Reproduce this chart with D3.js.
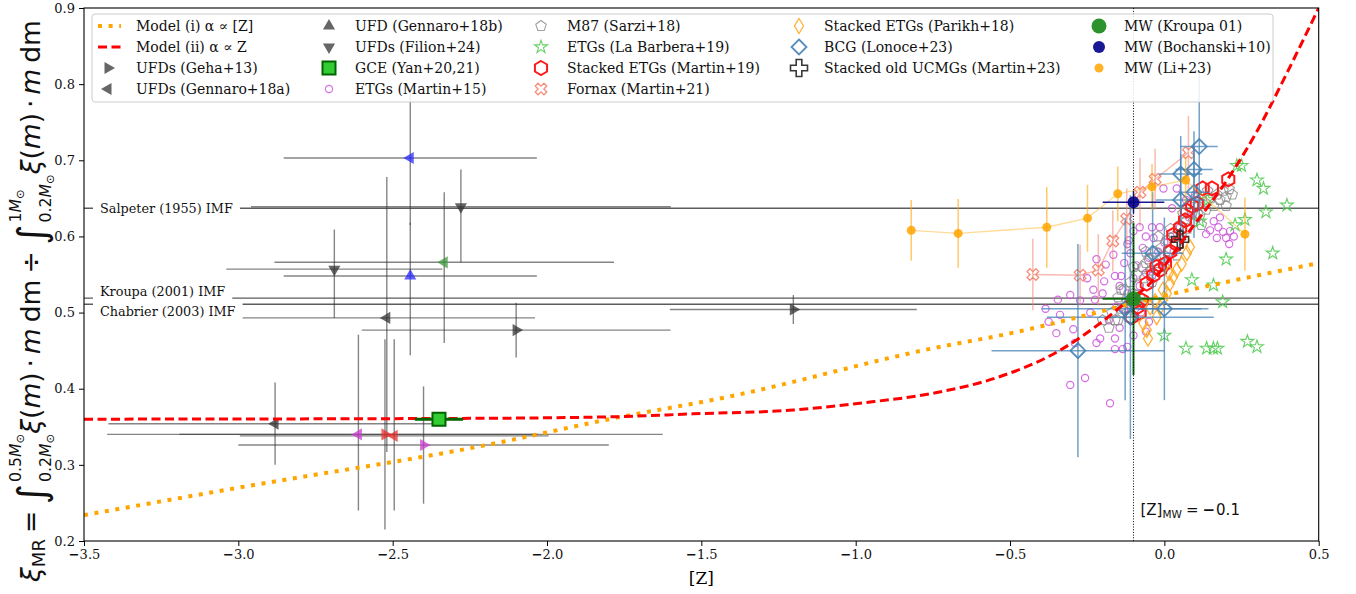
<!DOCTYPE html>
<html>
<head>
<meta charset="utf-8">
<script src="https://cdn.jsdelivr.net/npm/d3@7"></script>
<style>
  body { margin: 0; background: #fff; }
  svg { font-family: "DejaVu Serif", serif; }
</style>
</head>
<body>
<svg id="chart"></svg>
<script>
// ---------- data ----------
const xTicks = [-3.5, -3.0, -2.5, -2.0, -1.5, -1.0, -0.5, 0.0, 0.5];
const yTicks = [0.2, 0.3, 0.4, 0.5, 0.6, 0.7, 0.8, 0.9];

// model curves: [Z], xi_MR
const modelLinear = [[-3.5, 0.234], [-3.0, 0.27], [-2.184, 0.327], [-1.786, 0.361], [-1.418, 0.389],
  [-0.727, 0.455], [-0.532, 0.47], [0.051, 0.527], [0.5, 0.565]];
const modelExp = [[-3.5, 0.36], [-2.28, 0.361], [-1.8, 0.363], [-1.526, 0.367], [-1.203, 0.372],
  [-0.986, 0.381], [-0.737, 0.395], [-0.532, 0.416], [-0.349, 0.448], [-0.208, 0.486],
  [-0.122, 0.514], [-0.057, 0.534], [0.083, 0.608], [0.213, 0.68], [0.3, 0.738], [0.4, 0.817], [0.5, 0.9]];

const imfLabels = ['Salpeter (1955) IMF', 'Kroupa (2001) IMF', 'Chabrier (2003) IMF'];
const imfXi = [0.637, 0.519, 0.511];

// UFDs: [Z], xi, err[Z], err xi low, err xi high
const ufdGeha13 = [
  [-2.100, 0.477, 0.50, 0.036, 0.036],
  [-1.202, 0.504, 0.40, 0.019, 0.019],
  [-2.400, 0.326, 0.60, 0.077, 0.077],
  [-2.525, 0.340, 0.90, 0.125, 0.125]
];
const ufdGennaro18a = [
  [-2.881, 0.354, 0.54, 0.054, 0.054],
  [-2.519, 0.493, 0.48, 0.176, 0.185],
  [-2.443, 0.703, 0.41, 0.088, 0.088],
  [-2.333, 0.566, 0.55, 0.106, 0.092],
  [-2.611, 0.340, 0.58, 0.100, 0.131],
  [-2.495, 0.338, 0.50, 0.098, 0.127]
];
const ufdGennaro18b = [[-2.443, 0.548, 0.41, 0.104, 0.070]];
const ufdFilion24 = [
  [-2.279, 0.639, 0.68, 0.073, 0.049],
  [-2.689, 0.557, 0.35, 0.064, 0.052]
];
const gceYan = [[-2.35, 0.36, 0.078]];

// ETGs (Martin+15)
const etgMartin15 = [
  [0.148, 0.608], [0.16, 0.62], [0.175, 0.612], [0.19, 0.606], [0.2, 0.598], [0.213, 0.607], [0.225, 0.6],
  [0.21, 0.59], [0.135, 0.603], [0.17, 0.598], [0.18, 0.625],
  [-0.003, 0.663], [0.04, 0.663], [0.025, 0.637], [0.07, 0.648], [0.1, 0.655],
  [-0.015, 0.612], [-0.04, 0.612], [-0.08, 0.612], [-0.115, 0.595], [-0.1, 0.607],
  [-0.22, 0.57], [-0.19, 0.563], [-0.165, 0.576], [-0.16, 0.548], [-0.195, 0.541], [-0.145, 0.535],
  [-0.25, 0.545], [-0.23, 0.53],
  [-0.13, 0.565], [-0.11, 0.578], [-0.09, 0.562], [-0.07, 0.585], [-0.05, 0.572], [-0.035, 0.598],
  [-0.02, 0.58], [0.0, 0.592], [0.02, 0.6], [-0.1, 0.545], [-0.08, 0.535], [-0.06, 0.552], [-0.12, 0.525],
  [-0.14, 0.548], [-0.04, 0.548], [0.01, 0.57], [0.05, 0.612], [0.08, 0.625], [-0.13, 0.505], [-0.1, 0.512],
  [-0.075, 0.5], [-0.05, 0.488], [-0.155, 0.508], [-0.2, 0.525], [-0.06, 0.6], [-0.12, 0.59], [-0.02, 0.56],
  [0.03, 0.58],
  [-0.225, 0.517], [-0.273, 0.516], [-0.305, 0.523], [-0.345, 0.517], [-0.385, 0.505], [-0.375, 0.488],
  [-0.338, 0.497], [-0.295, 0.478], [-0.24, 0.5], [-0.18, 0.49], [-0.145, 0.48], [-0.22, 0.46],
  [-0.208, 0.466], [-0.16, 0.466], [-0.16, 0.452], [-0.135, 0.452], [-0.12, 0.455], [-0.305, 0.405],
  [-0.257, 0.414], [-0.176, 0.381], [-0.29, 0.46], [-0.35, 0.473], [-0.1, 0.47], [-0.06, 0.475]
];

// M87 (Sarzi+18)
const m87Sarzi18 = [
  [-0.17, 0.5], [-0.15, 0.52], [-0.14, 0.505], [-0.13, 0.53], [-0.12, 0.515], [-0.11, 0.54], [-0.1, 0.525],
  [-0.09, 0.55], [-0.085, 0.535], [-0.07, 0.56], [-0.065, 0.545], [-0.05, 0.57], [-0.045, 0.555],
  [-0.03, 0.58], [-0.025, 0.565], [-0.01, 0.585], [0.0, 0.575], [0.01, 0.595], [0.015, 0.58], [0.03, 0.6],
  [0.035, 0.59], [0.05, 0.615], [0.055, 0.6], [0.07, 0.62], [0.075, 0.61], [0.09, 0.63], [0.095, 0.62],
  [0.11, 0.64], [0.115, 0.628], [0.13, 0.645], [0.135, 0.635], [0.15, 0.65], [0.16, 0.64], [0.17, 0.655],
  [0.18, 0.648], [0.19, 0.66], [0.2, 0.652], [0.21, 0.662], [0.22, 0.655], [-0.16, 0.49], [-0.12, 0.5],
  [-0.08, 0.52], [-0.04, 0.54], [0.0, 0.56], [0.04, 0.575], [-0.18, 0.48], [-0.2, 0.49], [0.12, 0.615],
  [0.2, 0.64], [-0.06, 0.58], [-0.02, 0.6], [-0.14, 0.53], [-0.1, 0.56], [-0.06, 0.565], [0.02, 0.61],
  [0.06, 0.63], [0.1, 0.65], [0.14, 0.66], [-0.15, 0.49], [-0.07, 0.51]
];

// ETGs (La Barbera+19)
const etgLaBarbera19 = [
  [0.235, 0.693], [0.25, 0.693], [0.3, 0.674], [0.321, 0.663], [0.397, 0.641], [0.329, 0.632],
  [0.261, 0.622], [0.229, 0.615], [0.351, 0.578], [0.2, 0.57], [0.089, 0.543], [0.159, 0.536],
  [0.189, 0.514], [0.0, 0.47], [0.07, 0.453], [0.137, 0.453], [0.159, 0.453], [0.172, 0.453],
  [0.269, 0.462], [0.3, 0.455], [0.14, 0.648], [0.115, 0.62]
];

// Stacked ETGs (Martin+19)
const stackMartin19 = [
  [0.207, 0.675], [0.154, 0.663], [0.124, 0.663], [0.105, 0.643], [0.073, 0.634], [0.067, 0.621],
  [0.051, 0.611], [0.029, 0.602], [0.019, 0.58], [0.002, 0.564], [-0.014, 0.556], [-0.036, 0.549],
  [-0.057, 0.538], [-0.073, 0.516], [-0.089, 0.507], [-0.106, 0.494], [0.04, 0.59], [0.09, 0.64],
  [-0.025, 0.56], [-0.08, 0.5]
];

// Fornax (Martin+21): [Z], xi, err xi
const fornaxMartin21 = [
  [-0.426, 0.55, 0.047], [-0.273, 0.549, 0.04], [-0.214, 0.556, 0.047], [-0.167, 0.594, 0.04],
  [-0.122, 0.623, 0.04], [-0.079, 0.658, 0.045], [-0.03, 0.675, 0.04], [0.078, 0.71, 0.048]
];

// Stacked ETGs (Parikh+18)
const stackParikh18 = [
  [0.083, 0.586], [0.073, 0.578], [0.056, 0.564], [0.04, 0.556], [0.029, 0.547], [0.018, 0.538],
  [0.008, 0.525], [-0.014, 0.507], [-0.025, 0.494], [-0.057, 0.477], [-0.053, 0.466], [-0.068, 0.486],
  [-0.046, 0.507], [-0.03, 0.515], [-0.005, 0.53], [0.015, 0.552]
];

// BCG (Lonoce+23): [Z], xi, err[Z], err xi
const bcgLonoce23 = [
  [0.113, 0.718, 0.06, 0.1], [0.096, 0.688, 0.06, 0.05], [0.053, 0.682, 0.07, 0.05],
  [0.096, 0.658, 0.05, 0.06], [0.053, 0.648, 0.08, 0.06], [-0.038, 0.578, 0.1, 0.08],
  [-0.127, 0.505, 0.27, 0.12], [-0.11, 0.494, 0.27, 0.16], [0.0, 0.505, 0.12, 0.12],
  [-0.28, 0.45, 0.28, 0.14]
];

// Stacked old UCMGs (Martin+23)
const ucmgMartin23 = [[0.051, 0.596, 0.02, 0.015]];

// Milky Way
const mwKroupa01 = [[-0.1, 0.518, 0.1, 0.1]];
const mwBochanski10 = [[-0.1, 0.645, 0.1, 0.015]];
const mwLi23 = [
  [-0.82, 0.608, 0.04], [-0.668, 0.604, 0.045], [-0.381, 0.612, 0.053], [-0.249, 0.624, 0.044],
  [-0.151, 0.656, 0.036], [-0.04, 0.665, 0.03], [0.069, 0.674, 0.03], [0.261, 0.603, 0.048]
];
const zMW = -0.1;

const legendCols = [
  ['Model (i) α ∝ [Z]', 'Model (ii) α ∝ Z', 'UFDs (Geha+13)', 'UFDs (Gennaro+18a)'],
  ['UFD (Gennaro+18b)', 'UFDs (Filion+24)', 'GCE (Yan+20,21)', 'ETGs (Martin+15)'],
  ['M87 (Sarzi+18)', 'ETGs (La Barbera+19)', 'Stacked ETGs (Martin+19)', 'Fornax (Martin+21)'],
  ['Stacked ETGs (Parikh+18)', 'BCG (Lonoce+23)', 'Stacked old UCMGs (Martin+23)'],
  ['MW (Kroupa 01)', 'MW (Bochanski+10)', 'MW (Li+23)']
];

// ---------- layout ----------
const W = 1356, H = 594;
const margin = {top: 8, right: 37.3, bottom: 53, left: 84};
const svg = d3.select('#chart').attr('width', W).attr('height', H);

const x = d3.scaleLinear().domain([-3.5, 0.5]).range([margin.left, W - margin.right]);
const y = d3.scaleLinear().domain([0.2, 0.9]).range([H - margin.bottom, margin.top]);

svg.append('defs').append('clipPath').attr('id', 'plotclip')
  .append('rect').attr('x', x(-3.5)).attr('y', y(0.9))
  .attr('width', x(0.5) - x(-3.5)).attr('height', y(0.2) - y(0.9));

const plot = svg.append('g').attr('clip-path', 'url(#plotclip)');

// ---------- marker shapes ----------
function poly(pts) { return 'M' + pts.map(p => p[0].toFixed(2) + ',' + p[1].toFixed(2)).join('L') + 'Z'; }
function ngon(n, r, a0) {
  return d3.range(n).map(i => {
    const a = a0 + i * 2 * Math.PI / n;
    return [r * Math.cos(a), r * Math.sin(a)];
  });
}
function marker(type, r) {
  const up = -Math.PI / 2;
  switch (type) {
    case 'circle': return d3.symbol(d3.symbolCircle, Math.PI * r * r)();
    case 'triUp': return poly(ngon(3, r, up));
    case 'triDown': return poly(ngon(3, r, Math.PI / 2));
    case 'triLeft': return poly(ngon(3, r, Math.PI));
    case 'triRight': return poly(ngon(3, r, 0));
    case 'square': return poly([[-r, -r], [r, -r], [r, r], [-r, r]]);
    case 'pentagon': return poly(ngon(5, r, up));
    case 'hexagon': return poly(ngon(6, r, up));
    case 'diamond': return poly([[0, -r], [r, 0], [0, r], [-r, 0]]);
    case 'thinDiamond': return poly([[0, -r], [0.6 * r, 0], [0, r], [-0.6 * r, 0]]);
    case 'star': return poly(d3.range(10).map(i => {
      const a = up + i * Math.PI / 5, rr = i % 2 ? r * 0.382 : r;
      return [rr * Math.cos(a), rr * Math.sin(a)];
    }));
    case 'plus': case 'X': {
      const w = r * 0.33;
      let pts = [[-w, -r], [w, -r], [w, -w], [r, -w], [r, w], [w, w], [w, r], [-w, r], [-w, w], [-r, w], [-r, -w], [-w, -w]];
      if (type === 'X') {
        const c = Math.SQRT1_2;
        pts = pts.map(p => [(p[0] - p[1]) * c, (p[0] + p[1]) * c]);
      }
      return poly(pts);
    }
  }
}

// ---------- IMF lines ----------
imfXi.forEach(v => {
  plot.append('line').attr('x1', x(-3.5)).attr('x2', x(0.5)).attr('y1', y(v)).attr('y2', y(v))
    .attr('stroke', '#333').attr('stroke-opacity', 0.8).attr('stroke-width', 1.4);
});

// ---------- error bar helpers ----------
function hbar(g, z, xi, ez, color, op, sw) {
  g.append('line').attr('x1', x(z - ez)).attr('x2', x(z + ez)).attr('y1', y(xi)).attr('y2', y(xi))
    .attr('stroke', color).attr('stroke-opacity', op).attr('stroke-width', sw);
}
function vbar(g, z, xi, lo, hi, color, op, sw) {
  g.append('line').attr('x1', x(z)).attr('x2', x(z)).attr('y1', y(xi - lo)).attr('y2', y(xi + hi))
    .attr('stroke', color).attr('stroke-opacity', op).attr('stroke-width', sw);
}
function dot(g, z, xi, type, r, fill, stroke, sw, op) {
  g.append('path').attr('d', marker(type, r)).attr('transform', `translate(${x(z)},${y(xi)})`)
    .attr('fill', fill).attr('stroke', stroke).attr('stroke-width', sw || 0).attr('opacity', op == null ? 1 : op);
}

// ---------- UFDs ----------
const ufdSets = [
  {data: ufdGeha13, shape: 'triRight', tint: ['#333', '#333', '#c93fcf', '#e8312e']},
  {data: ufdGennaro18a, shape: 'triLeft', tint: ['#333', '#333', '#2a2aff', '#3c9a3c', '#c93fcf', '#e8312e']},
  {data: ufdGennaro18b, shape: 'triUp', tint: ['#2a2aff']},
  {data: ufdFilion24, shape: 'triDown', tint: ['#333', '#333']}
];
const ufdLayer = plot.append('g');
ufdSets.forEach(s => s.data.forEach(d => {
  hbar(ufdLayer, d[0], d[1], d[2], '#333', 0.6, 1.4);
  vbar(ufdLayer, d[0], d[1], d[3], d[4], '#333', 0.6, 1.4);
}));
ufdSets.forEach(s => s.data.forEach((d, i) => {
  dot(ufdLayer, d[0], d[1], s.shape, 7, s.tint[i], 'none', 0, 0.75);
}));

// ---------- ETG cloud ----------
const cloud = plot.append('g');
etgMartin15.forEach(d => dot(cloud, d[0], d[1], 'circle', 3.6, 'none', '#cc55dd', 1.2, 0.85));
m87Sarzi18.forEach(d => dot(cloud, d[0], d[1], 'pentagon', 5.5, 'none', '#888', 1.1, 0.8));
etgLaBarbera19.forEach(d => dot(cloud, d[0], d[1], 'star', 6.8, 'none', '#55cc55', 1.1, 0.9));

fornaxMartin21.forEach(d => vbar(cloud, d[0], d[1], d[2], d[2], '#f4836f', 0.55, 1.5));
cloud.append('path').datum(fornaxMartin21)
  .attr('d', d3.line().x(d => x(d[0])).y(d => y(d[1])))
  .attr('fill', 'none').attr('stroke', '#f4836f').attr('stroke-opacity', 0.55).attr('stroke-width', 1.4);
fornaxMartin21.forEach(d => dot(cloud, d[0], d[1], 'X', 6.2, 'none', '#f4836f', 1.3, 0.9));

stackMartin19.forEach(d => dot(cloud, d[0], d[1], 'hexagon', 7, 'none', '#ff1a1a', 2, 1));
stackParikh18.forEach(d => dot(cloud, d[0], d[1], 'thinDiamond', 7.5, 'none', '#ffaa22', 1.3, 0.9));

bcgLonoce23.forEach(d => {
  hbar(cloud, d[0], d[1], d[2], '#4682b4', 0.75, 1.5);
  vbar(cloud, d[0], d[1], d[3], d[3], '#4682b4', 0.75, 1.5);
});
bcgLonoce23.forEach(d => dot(cloud, d[0], d[1], 'diamond', 7.5, 'none', '#4682b4', 1.8, 0.9));

ucmgMartin23.forEach(d => {
  hbar(cloud, d[0], d[1], d[2], '#222', 0.8, 1.5);
  vbar(cloud, d[0], d[1], d[3], d[3], '#222', 0.8, 1.5);
  dot(cloud, d[0], d[1], 'plus', 8.5, 'none', '#222', 1.6, 0.9);
});

// ---------- models ----------
const lineGen = d3.line().x(d => x(d[0])).y(d => y(d[1])).curve(d3.curveMonotoneX);
plot.append('path').datum(modelLinear).attr('d', lineGen)
  .attr('fill', 'none').attr('stroke', '#ffa500').attr('stroke-width', 4).attr('stroke-dasharray', '4,6.6');
plot.append('path').datum(modelExp).attr('d', lineGen)
  .attr('fill', 'none').attr('stroke', '#ff0000').attr('stroke-width', 3).attr('stroke-dasharray', '9,4.5');

// ---------- GCE + MW ----------
const frontLayer = plot.append('g');
gceYan.forEach(d => {
  hbar(frontLayer, d[0], d[1], d[2], '#006400', 1, 3);
  dot(frontLayer, d[0], d[1], 'square', 6.5, '#32cd32', '#006400', 2, 1);
});
mwLi23.forEach(d => vbar(frontLayer, d[0], d[1], d[2], d[2], '#ffa500', 0.6, 1.5));
frontLayer.append('path').datum(mwLi23).attr('d', d3.line().x(d => x(d[0])).y(d => y(d[1])))
  .attr('fill', 'none').attr('stroke', '#ffa500').attr('stroke-opacity', 0.4).attr('stroke-width', 1.4);
mwLi23.forEach(d => dot(frontLayer, d[0], d[1], 'circle', 4.5, '#ffa500', 'none', 0, 0.85));
mwBochanski10.forEach(d => {
  hbar(frontLayer, d[0], d[1], d[2], '#00008b', 0.9, 1.5);
  vbar(frontLayer, d[0], d[1], d[3], d[3], '#00008b', 0.9, 1.5);
  dot(frontLayer, d[0], d[1], 'circle', 6, '#00008b', 'none', 0, 0.9);
});
mwKroupa01.forEach(d => {
  hbar(frontLayer, d[0], d[1], d[2], '#006400', 0.9, 2);
  vbar(frontLayer, d[0], d[1], d[3], d[3], '#006400', 0.9, 2);
  dot(frontLayer, d[0], d[1], 'circle', 7.5, '#228b22', 'none', 0, 0.95);
});

// [Z]_MW marker line
plot.append('line').attr('x1', x(zMW)).attr('x2', x(zMW)).attr('y1', y(0.2)).attr('y2', y(0.9))
  .attr('stroke', '#000').attr('stroke-width', 1).attr('stroke-dasharray', '1,1.7');

// IMF labels with white boxes
const imfLabelY = [y(imfXi[0]), y(imfXi[1]) - 7, y(imfXi[2]) + 7];
imfLabels.forEach((t, i) => {
  const tx = svg.append('text').attr('x', 100).attr('y', imfLabelY[i]).attr('dy', '0.35em')
    .attr('font-size', 12.8).attr('fill', '#111').text(t);
  const bb = tx.node().getBBox();
  svg.insert('rect', () => tx.node()).attr('x', bb.x - 7).attr('y', bb.y - 1)
    .attr('width', bb.width + 14).attr('height', bb.height + 2).attr('fill', '#fff');
});

// ---------- axes ----------
function minusText(sel) {
  sel.each(function(d) {
    const t = d3.select(this);
    const s = Math.abs(d).toFixed(1);
    t.text(null);
    if (d < 0) t.append('tspan').attr('font-family', 'DejaVu Sans').attr('font-weight', 'bold').text('−');
    t.append('tspan').text(s);
  });
}
const gx = svg.append('g').attr('transform', `translate(0,${y(0.2)})`)
  .call(d3.axisBottom(x).tickValues(xTicks).tickSize(5).tickPadding(4));
gx.select('.domain').remove();
gx.selectAll('text').attr('font-family', 'DejaVu Serif').attr('font-size', 13).attr('fill', '#111').call(minusText);
const gy = svg.append('g').attr('transform', `translate(${x(-3.5)},0)`)
  .call(d3.axisLeft(y).tickValues(yTicks).tickSize(5).tickPadding(4).tickFormat(d3.format('.1f')));
gy.select('.domain').remove();
gy.selectAll('text').attr('font-family', 'DejaVu Serif').attr('font-size', 13).attr('fill', '#111');
svg.append('rect').attr('x', x(-3.5)).attr('y', y(0.9)).attr('width', x(0.5) - x(-3.5))
  .attr('height', y(0.2) - y(0.9)).attr('fill', 'none').attr('stroke', '#000').attr('stroke-width', 1.1);

svg.append('text').attr('x', (x(-3.5) + x(0.5)) / 2).attr('y', 584).attr('text-anchor', 'middle')
  .attr('font-size', 17).text('[Z]');

// ---------- math text helper ----------
function mathRun(g, pieces, x0, base) {
  let cx = x0;
  pieces.forEach(p => {
    if (p.sup) {
      const a = mathRun(g, p.sup, cx, base + p.supDy);
      const b = mathRun(g, p.sub, cx, base + p.subDy);
      cx = Math.max(a, b);
      return;
    }
    const t = g.append('text').attr('x', cx).attr('y', base + (p.dy || 0))
      .attr('font-family', 'DejaVu Sans').attr('font-size', p.size)
      .attr('font-style', p.it ? 'italic' : 'normal').attr('font-weight', p.b ? 'bold' : 'normal')
      .attr('fill', '#111').text(p.t);
    cx += t.node().getComputedTextLength() + (p.gap || 0);
  });
  return cx;
}
const lim = (n) => [{t: n + ' ', size: 13}, {t: 'M', size: 13, it: true}, {t: '⊙', size: 9.5, dy: 3}];
const yLabelPieces = [
  {t: 'ξ', size: 22, it: true}, {t: 'MR', size: 15, dy: 4, gap: 5}, {t: '=', size: 22, gap: 5},
  {t: '∫', size: 32, dy: 4, gap: 2},
  {sup: lim('0.5'), sub: lim('0.2'), supDy: -16, subDy: 9},
  {t: 'ξ', size: 22, it: true}, {t: '(', size: 22}, {t: 'm', size: 22, it: true}, {t: ')', size: 22, gap: 4},
  {t: '·', size: 22, gap: 4}, {t: 'm', size: 22, it: true, gap: 5}, {t: 'dm', size: 22, gap: 5},
  {t: '÷', size: 22, gap: 5}, {t: '∫', size: 32, dy: 4, gap: 2},
  {sup: lim('1'), sub: lim('0.2'), supDy: -16, subDy: 9},
  {t: 'ξ', size: 22, it: true}, {t: '(', size: 22}, {t: 'm', size: 22, it: true}, {t: ')', size: 22, gap: 4},
  {t: '·', size: 22, gap: 4}, {t: 'm', size: 22, it: true, gap: 5}, {t: 'dm', size: 22}
];
const yLab = svg.append('g');
const yLen = mathRun(yLab, yLabelPieces, 0, 0);
const yScaleK = 562 / yLen;
yLab.attr('transform', `translate(40,${301 + 281}) rotate(-90) scale(${yScaleK})`);

const mwLab = svg.append('g');
mathRun(mwLab, [{t: '[Z]', size: 15}, {t: 'MW', size: 10.5, dy: 3, gap: 4}, {t: '=', size: 15, gap: 4},
  {t: '−', size: 15, b: true, gap: 1}, {t: '0.1', size: 15}], x(zMW) + 7, 515);

// ---------- legend ----------
const leg = svg.append('g');
leg.append('rect').attr('x', 92).attr('y', 14).attr('width', 1181).attr('height', 88).attr('rx', 3)
  .attr('fill', '#fff').attr('fill-opacity', 0.85).attr('stroke', '#ccc').attr('stroke-width', 1);
const rowY = [26, 47, 68, 89];
const markX = [108, 329, 541, 799, 1099];
const textX = [136, 355, 567, 824, 1124];
legendCols.forEach((col, ci) => col.forEach((t, ri) => {
  leg.append('text').attr('x', textX[ci]).attr('y', rowY[ri]).attr('dy', '0.35em')
    .attr('font-size', 14).attr('fill', '#111').text(t);
}));
function legMark(ci, ri, type, r, fill, stroke, sw, op) {
  leg.append('path').attr('d', marker(type, r)).attr('transform', `translate(${markX[ci]},${rowY[ri]})`)
    .attr('fill', fill).attr('stroke', stroke).attr('stroke-width', sw || 0).attr('opacity', op == null ? 1 : op);
}
leg.append('line').attr('x1', 98).attr('x2', 121).attr('y1', rowY[0]).attr('y2', rowY[0])
  .attr('stroke', '#ffa500').attr('stroke-width', 4).attr('stroke-dasharray', '4,6.6');
leg.append('line').attr('x1', 98).attr('x2', 121).attr('y1', rowY[1]).attr('y2', rowY[1])
  .attr('stroke', '#ff0000').attr('stroke-width', 3).attr('stroke-dasharray', '9,4.5');
legMark(0, 2, 'triRight', 7, '#333', 'none', 0, 0.75);
legMark(0, 3, 'triLeft', 7, '#333', 'none', 0, 0.75);
legMark(1, 0, 'triUp', 7, '#333', 'none', 0, 0.75);
legMark(1, 1, 'triDown', 7, '#333', 'none', 0, 0.75);
legMark(1, 2, 'square', 6.5, '#32cd32', '#006400', 2, 1);
legMark(1, 3, 'circle', 3.6, 'none', '#cc55dd', 1.2, 0.85);
legMark(2, 0, 'pentagon', 5.5, 'none', '#888', 1.1, 0.8);
legMark(2, 1, 'star', 6.8, 'none', '#55cc55', 1.1, 0.9);
legMark(2, 2, 'hexagon', 7, 'none', '#ff1a1a', 2, 1);
legMark(2, 3, 'X', 6.2, 'none', '#f4836f', 1.3, 0.9);
legMark(3, 0, 'thinDiamond', 7.5, 'none', '#ffaa22', 1.3, 0.9);
legMark(3, 1, 'diamond', 7.5, 'none', '#4682b4', 1.8, 0.9);
legMark(3, 2, 'plus', 8.5, 'none', '#222', 1.6, 0.9);
legMark(4, 0, 'circle', 7.5, '#228b22', 'none', 0, 0.95);
legMark(4, 1, 'circle', 6, '#00008b', 'none', 0, 0.9);
legMark(4, 2, 'circle', 4.5, '#ffa500', 'none', 0, 0.85);
</script>
</body>
</html>
